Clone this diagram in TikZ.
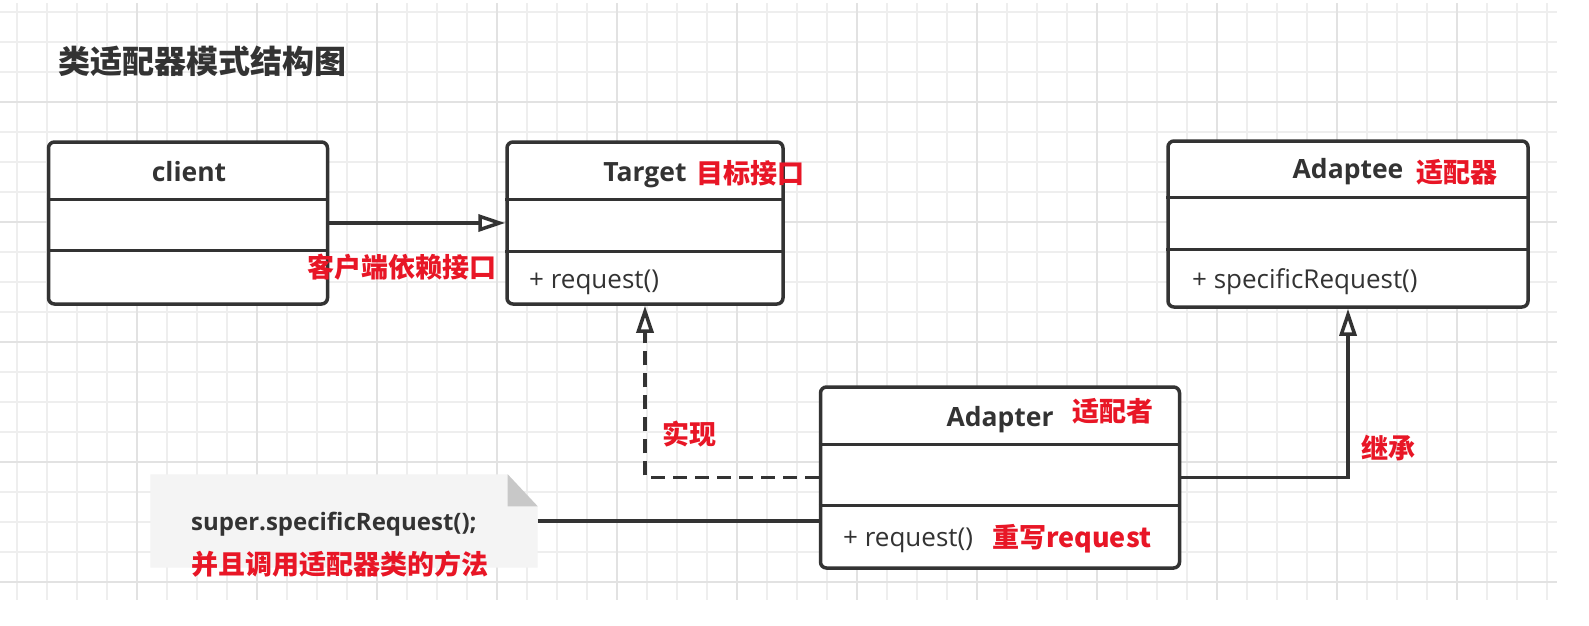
\documentclass[tikz,border=0pt]{standalone}
\usepackage{fontspec}
\setmainfont{Open Sans}
\newfontfamily\cjk{Noto Sans CJK SC}
\usepackage{tikz}
\usetikzlibrary{calc}
\usetikzlibrary{arrows.meta}
\tikzset{>={Triangle[length=27pt,width=17pt,fill=white]}}
\definecolor{ink}{RGB}{51,51,51}
\definecolor{redtext}{RGB}{232,22,38}
\definecolor{gridminor}{RGB}{238,238,238}
\definecolor{gridmajor}{RGB}{226,226,226}
\definecolor{notefill}{RGB}{244,244,244}
\definecolor{foldgray}{RGB}{200,200,200}

\begin{document}
\begin{tikzpicture}[x=1pt, y=-1pt,
  umlbox/.style={draw=ink, line width=3.5pt, rounded corners=6pt, fill=white},
  divider/.style={draw=ink, line width=3.5pt},
  classname/.style={font=\fontsize{26.5}{30}\selectfont\bfseries, text=ink, inner sep=0},
  member/.style={font=\fontsize{26}{30}\selectfont, text=ink, anchor=west, inner sep=0},
  redlabel/.style={font=\cjk\fontsize{27}{32}\selectfont\bfseries, text=redtext, inner sep=0},
  conn/.style={draw=ink, line width=3.5pt}]
  \useasboundingbox (0,0) rectangle (1589,625);

  % background grid
  \fill[white] (0,0) rectangle (1589,625);
  \foreach \gx in {17,47,...,1547} \draw[gridminor, line width=2pt] (\gx,3) -- (\gx,600);
  \foreach \gy in {12,42,...,582} \draw[gridminor, line width=2pt] (0,\gy) -- (1557,\gy);
  \foreach \gx in {137,257,...,1457} \draw[gridmajor, line width=2pt] (\gx,3) -- (\gx,600);
  \foreach \gy in {102,222,...,582} \draw[gridmajor, line width=2pt] (0,\gy) -- (1557,\gy);

  \node[font=\cjk\fontsize{32}{38}\selectfont\bfseries, text=ink, anchor=west, inner sep=0] (TITLE) at (58,61) {类适配器模式结构图};

  % classes
  \node[umlbox, minimum width=279, minimum height=162] (client) at (188,223) {};
  \node[umlbox, minimum width=276, minimum height=162] (Target) at (645,223) {};
  \node[umlbox, minimum width=360, minimum height=166] (Adaptee) at (1348,224) {};
  \node[umlbox, minimum width=359, minimum height=181] (Adapter) at (1000,477.5) {};

  \draw[divider] ($(client.north west)+(0,59)$) -- ($(client.north east)+(0,59)$);
  \draw[divider] ($(client.north west)+(0,110)$) -- ($(client.north east)+(0,110)$);
  \draw[divider] ($(Target.north west)+(0,59)$) -- ($(Target.north east)+(0,59)$);
  \draw[divider] ($(Target.north west)+(0,111)$) -- ($(Target.north east)+(0,111)$);
  \draw[divider] ($(Adaptee.north west)+(0,58)$) -- ($(Adaptee.north east)+(0,58)$);
  \draw[divider] ($(Adaptee.north west)+(0,110)$) -- ($(Adaptee.north east)+(0,110)$);
  \draw[divider] ($(Adapter.north west)+(0,59)$) -- ($(Adapter.north east)+(0,59)$);
  \draw[divider] ($(Adapter.north west)+(0,120)$) -- ($(Adapter.north east)+(0,120)$);

  \node[classname] (clientname) at (189,172) {client};
  \node[classname] (Targetname) at (645,175) {Target};
  \node[redlabel, anchor=west] (Targetnote) at (696,173) {目标接口};
  \node[member] (Targetop) at (529,282) {+ request()};
  \node[classname] (Adapteename) at (1348,172) {Adaptee};
  \node[redlabel, anchor=west] (Adapteenote) at (1416,172) {适配器};
  \node[member] (Adapteeop) at (1192,282) {+ specificRequest()};
  \node[classname] (Adaptername) at (1000,420) {Adapter};
  \node[redlabel, anchor=west] (Adapternote) at (1072,411) {适配者};
  \node[member] (Adapterop) at (843,540) {+ request()};
  \node[redlabel, anchor=west] (Adapteropnote) at (992,539) {重写request};

  % note
  \node[minimum width=387, minimum height=93, inner sep=0] (note) at (344,521) {};
  \fill[notefill] (note.north west) -- ($(note.north east)+(-30,0)$) -- ($(note.north east)+(0,32)$)
    -- (note.south east) -- (note.south west) -- cycle;
  \fill[foldgray] ($(note.north east)+(-30,0)$) -- ($(note.north east)+(0,32)$) -- ($(note.north east)+(-30,32)$) -- cycle;
  \node[font=\fontsize{24}{28}\selectfont\bfseries, text=ink, anchor=west, inner sep=0] (notecode) at (191,524) {super.specificRequest();};
  \node[redlabel, anchor=west] (notetext) at (191,564) {并且调用适配器类的方法};

  % connectors
  \draw[conn, ->] (client.east) -- (Target.west);
  \node[redlabel] (dependlabel) at (402,267) {客户端依赖接口};
  \draw[conn, ->, dash pattern=on 14pt off 8pt] (Adapter.west) -| (Target.south);
  \node[redlabel, anchor=west] (realizelabel) at (662,434) {实现};
  \draw[conn, ->] (Adapter.east) -| (Adaptee.south);
  \node[redlabel, anchor=west] (inheritlabel) at (1361,448) {继承};
  \draw[conn] (note.east) -- (note.east -| Adapter.west);
\end{tikzpicture}
\end{document}
